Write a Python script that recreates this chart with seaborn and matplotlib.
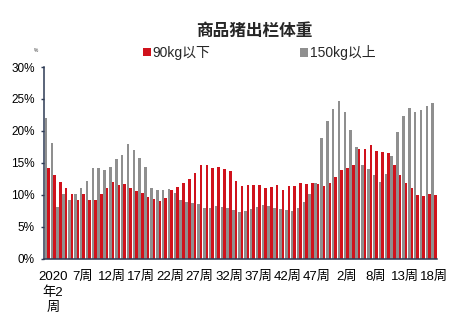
import pandas as pd
import seaborn as sns
import matplotlib.pyplot as plt
from matplotlib.patches import Patch
from matplotlib.ticker import FuncFormatter

# Week categories: 2020 weeks 1-51, then 2021 weeks (week 7 not reported)
weeks_2020 = [f"2020年{w}周" for w in range(1, 52)]
weeks_2021 = [f"2021年{w}周" for w in [2, 3, 4, 5, 6, 8, 9, 10, 11, 12, 13, 14, 15, 16, 17, 18]]
weeks = weeks_2020 + weeks_2021

# Share of hogs sold below 90kg (%)
below_90 = [14.1, 13.1, 12.0, 11.1, 10.1, 9.1, 10.1, 9.1, 9.1, 10.1,
            11.0, 12.0, 11.5, 11.6, 11.0, 10.5, 10.2, 9.7, 9.3, 9.0,
            9.5, 10.8, 11.2, 11.8, 12.5, 13.4, 14.6, 14.7, 14.2, 14.3,
            14.0, 13.7, 12.1, 11.4, 11.5, 11.5, 11.5, 11.1, 11.2, 11.5,
            10.8, 11.3, 11.4, 11.8, 11.6, 11.8, 11.6, 11.4, 11.8, 12.7,
            13.9, 14.2, 14.7, 17.1, 17.1, 17.8, 16.9, 16.7, 16.5, 14.7,
            13.1, 11.8, 11.0, 10.0, 9.8, 10.1, 10.0]

# Share of hogs sold above 150kg (%)
above_150 = [22.0, 18.1, 8.1, 10.1, 9.1, 10.1, 11.1, 12.1, 14.1, 14.1,
             13.9, 14.4, 15.6, 16.2, 18.0, 17.0, 15.8, 14.3, 11.1, 10.7,
             10.7, 10.9, 10.2, 9.2, 8.9, 8.7, 8.5, 7.9, 7.9, 8.2,
             8.0, 7.9, 7.6, 7.3, 7.4, 7.7, 8.1, 8.4, 8.2, 7.9,
             7.7, 7.6, 7.4, 7.9, 8.9, 10.1, 11.8, 18.9, 21.5, 23.4,
             24.6, 22.9, 20.2, 17.4, 14.6, 14.0, 13.1, 12.0, 13.2, 16.0,
             19.8, 22.3, 23.5, 22.9, 23.3, 23.9, 24.4]

series_names = ["90kg以下", "150kg以上"]
tick_positions = [1, 6, 11, 16, 21, 26, 31, 36, 41, 46, 51, 56, 61, 66]
tick_labels = ["2020\n年2\n周", "7周", "12周", "17周", "22周", "27周", "32周",
               "37周", "42周", "47周", "2周", "8周", "13周", "18周"]

RED = "#D0121C"
GRAY = "#8F8F8F"
AXIS = "#2E3B55"

df = pd.DataFrame({
    "week": weeks * 2,
    "value": below_90 + above_150,
    "series": [series_names[0]] * len(weeks) + [series_names[1]] * len(weeks),
})

sns.set_theme(style="white")
plt.rcParams["font.family"] = ["Liberation Sans", "Noto Sans CJK SC", "DejaVu Sans"]

fig = plt.figure(figsize=(4.7, 3.28), dpi=100)
ax = fig.add_axes([44 / 470, 1 - 258.5 / 328, (437 - 44) / 470, (258.5 - 67) / 328])

sns.barplot(data=df, x="week", y="value", hue="series", order=weeks,
            hue_order=[series_names[1], series_names[0]],
            palette={series_names[0]: RED, series_names[1]: GRAY},
            width=0.88, dodge=True, saturation=1, linewidth=0, ax=ax)

ax.get_legend().remove()
ax.set_xlim(-0.56, len(weeks) - 0.5)
ax.set_ylim(0, 30)
ax.set_yticks(range(0, 31, 5))
ax.yaxis.set_major_formatter(FuncFormatter(lambda v, _: f"{v:.0f}%"))
ax.set_xticks(tick_positions)
ax.set_xticklabels(tick_labels, fontsize=9.5, linespacing=1.35,
                   family=["Liberation Sans", "Noto Sans CJK SC"])
ax.set_xlabel("")
ax.set_ylabel("")

for side in ("top", "right"):
    ax.spines[side].set_visible(False)
for side in ("left", "bottom"):
    ax.spines[side].set_color(AXIS)
    ax.spines[side].set_linewidth(1.1)

ax.tick_params(axis="y", which="major", direction="out", length=2.5, width=1,
               color=AXIS, pad=4, labelsize=8.5, labelcolor="black", left=True)
ax.tick_params(axis="x", which="major", length=0, pad=9, labelcolor="black")

fig.text(254 / 470, 1 - 31 / 328, "商品猪出栏体重", ha="center", va="center",
         fontsize=12, fontweight="bold", family=["Noto Sans CJK SC"])
fig.text(36 / 470, 1 - 51 / 328, "%", ha="center", va="center", fontsize=3.5,
         color="#333333")

for color, label, x0 in [(RED, series_names[0], 143), (GRAY, series_names[1], 300)]:
    fig.legend(handles=[Patch(facecolor=color, edgecolor="none", label=label)],
               loc="center left", bbox_to_anchor=(x0 / 470, 1 - 53 / 328),
               frameon=False, borderpad=0, borderaxespad=0,
               handlelength=0.55, handleheight=0.55, handletextpad=0.15,
               prop={"family": ["Liberation Sans", "Noto Sans CJK SC"], "size": 10})

fig.savefig("out.png", dpi=100)
